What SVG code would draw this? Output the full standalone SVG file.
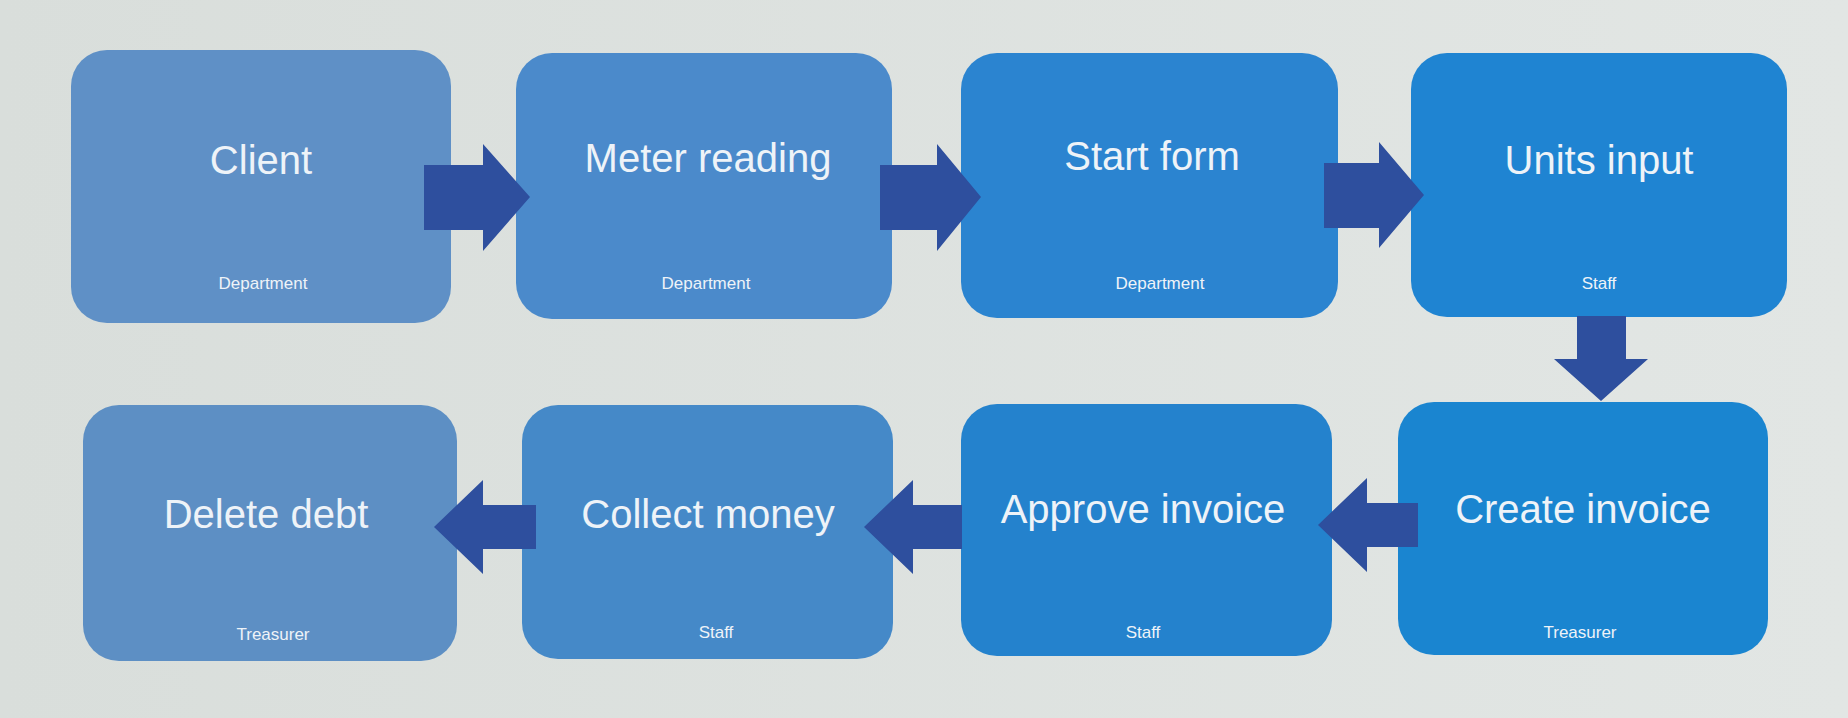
<svg xmlns="http://www.w3.org/2000/svg" width="1848" height="718" viewBox="0 0 1848 718">
<defs>
<linearGradient id="bg" x1="0" y1="0" x2="1" y2="0"><stop offset="0" stop-color="#d9dedb"/><stop offset="1" stop-color="#e2e6e4"/></linearGradient>
</defs>
<style>
.t{font-family:"Liberation Sans",Arial,sans-serif;fill:#eef3f8;text-anchor:middle;font-size:40px}
.s{font-family:"Liberation Sans",Arial,sans-serif;fill:#eef3f8;text-anchor:middle;font-size:17px}
.a{fill:#2e4f9e}
</style>
<rect width="1848" height="718" fill="url(#bg)"/>
<g id="n1"><rect x="71" y="50" width="380" height="273" rx="36" fill="#5f90c6"/><text class="t" x="261" y="174">Client</text><text class="s" x="263" y="289">Department</text></g>
<g id="n2"><rect x="516" y="53" width="376" height="266" rx="36" fill="#4b8acb"/><text class="t" x="708" y="172">Meter reading</text><text class="s" x="706" y="289">Department</text></g>
<g id="n3"><rect x="961" y="53" width="377" height="265" rx="36" fill="#2b84d0"/><text class="t" x="1152" y="170">Start form</text><text class="s" x="1160" y="289">Department</text></g>
<g id="n4"><rect x="1411" y="53" width="376" height="264" rx="36" fill="#1f84d2"/><text class="t" x="1599" y="174">Units input</text><text class="s" x="1599" y="289">Staff</text></g>
<g id="n5"><rect x="1398" y="402" width="370" height="253" rx="36" fill="#1a85d0"/><text class="t" x="1583" y="523">Create invoice</text><text class="s" x="1580" y="638">Treasurer</text></g>
<g id="n6"><rect x="961" y="404" width="371" height="252" rx="36" fill="#2482cd"/><text class="t" x="1143" y="523">Approve invoice</text><text class="s" x="1143" y="638">Staff</text></g>
<g id="n7"><rect x="522" y="405" width="371" height="254" rx="36" fill="#4589c8"/><text class="t" x="708" y="528">Collect money</text><text class="s" x="716" y="638">Staff</text></g>
<g id="n8"><rect x="83" y="405" width="374" height="256" rx="36" fill="#5d8fc4"/><text class="t" x="266" y="528">Delete debt</text><text class="s" x="273" y="640">Treasurer</text></g>
<g id="connectors">
<polygon class="a" points="424,165 483,165 483,144 530,197 483,251 483,230 424,230"/>
<polygon class="a" points="880,165 937,165 937,144 981,197 937,251 937,230 880,230"/>
<polygon class="a" points="1324,163 1379,163 1379,142 1424,195 1379,248 1379,228 1324,228"/>
<polygon class="a" points="1577,316 1626,316 1626,359 1648,359 1601,401 1554,359 1577,359"/>
<polygon class="a" points="1418,503 1367,503 1367,478 1318,525 1367,572 1367,547 1418,547"/>
<polygon class="a" points="962,505 913,505 913,480 864,527 913,574 913,549 962,549"/>
<polygon class="a" points="536,505 483,505 483,480 434,527 483,574 483,549 536,549"/>
</g>
</svg>
